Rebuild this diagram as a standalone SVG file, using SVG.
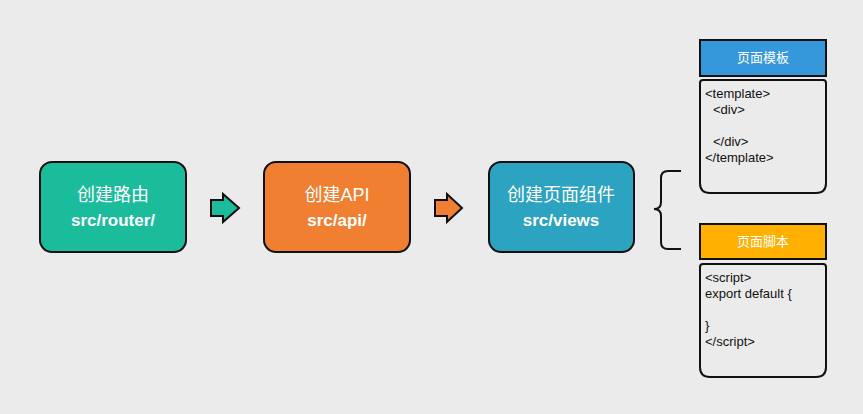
<svg xmlns="http://www.w3.org/2000/svg" width="863" height="414" viewBox="0 0 863 414">
<style>
.node{stroke:#111;stroke-width:2}
.t1{font-family:"Liberation Sans","Noto Sans CJK SC",sans-serif;font-size:18px;fill:#fff;text-anchor:middle}
.t2{font-family:"Liberation Sans","Noto Sans CJK SC",sans-serif;font-size:17px;font-weight:bold;fill:#fff;text-anchor:middle}
.hd{font-family:"Liberation Sans","Noto Sans CJK SC",sans-serif;font-size:13px;fill:#fff;text-anchor:middle}
.code{font-family:"Liberation Sans",sans-serif;font-size:13px;fill:#111}
.box{fill:#ebebeb;stroke:#111;stroke-width:2}
.conn{stroke:#111;stroke-width:2;stroke-linejoin:miter}
</style>
<rect width="863" height="414" fill="#ebebeb"/>
<g id="node-router">
<rect class="node" x="40" y="162" width="146" height="90" rx="12" fill="#1abc9c"/>
<text class="t1" x="113" y="201">创建路由</text>
<text class="t2" x="113" y="226">src/router/</text>
</g>
<g id="node-api">
<rect class="node" x="264" y="162" width="146" height="90" rx="12" fill="#f07f32"/>
<text class="t1" x="337" y="201">创建API</text>
<text class="t2" x="337" y="226">src/api/</text>
</g>
<g id="node-views">
<rect class="node" x="489" y="162" width="145" height="90" rx="12" fill="#2ba3c1"/>
<text class="t1" x="561" y="201">创建页面组件</text>
<text class="t2" x="561" y="226">src/views</text>
</g>
<g id="connectors">
<path class="conn" fill="#1abc9c" d="M211,200 H223 V194 L239,208 L223,222 V216 H211 Z"/>
<path class="conn" fill="#f07f32" d="M435,200 H447 V194 L462,208 L447,222 V216 H435 Z"/>
<path fill="none" stroke="#111" stroke-width="2" d="M681,171 H668 Q661,171 661,178 V202 Q661,209 654,209 Q661,209 661,216 V242 Q661,249 668,249 H681"/>
</g>
<g id="template-header">
<rect x="700" y="40" width="126" height="36" fill="#3498db" stroke="#111" stroke-width="2"/>
<text class="hd" x="763" y="62">页面模板</text>
</g>
<g id="template-body">
<path class="box" d="M703,80 H823 Q826,80 826,83 V183 Q826,193 816,193 H710 Q700,193 700,183 V83 Q700,80 703,80 Z"/>
<text class="code" x="705" y="98">&lt;template&gt;</text>
<text class="code" x="713" y="114">&lt;div&gt;</text>
<text class="code" x="713" y="146">&lt;/div&gt;</text>
<text class="code" x="705" y="162">&lt;/template&gt;</text>
</g>
<g id="script-header">
<rect x="700" y="224" width="126" height="35" fill="#ffb000" stroke="#111" stroke-width="2"/>
<text class="hd" x="763" y="246">页面脚本</text>
</g>
<g id="script-body">
<path class="box" d="M703,264 H823 Q826,264 826,267 V367 Q826,377 816,377 H710 Q700,377 700,367 V267 Q700,264 703,264 Z"/>
<text class="code" x="705" y="282">&lt;script&gt;</text>
<text class="code" x="705" y="298">export default {</text>
<text class="code" x="705" y="330">}</text>
<text class="code" x="705" y="346">&lt;/script&gt;</text>
</g>
</svg>
